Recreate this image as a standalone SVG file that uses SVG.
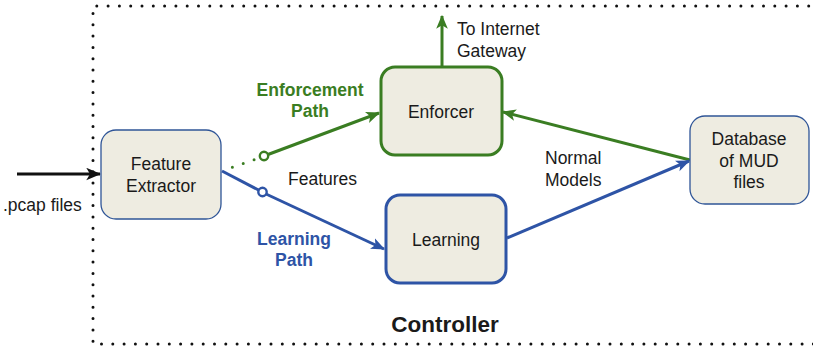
<svg xmlns="http://www.w3.org/2000/svg" width="813" height="350" viewBox="0 0 813 350">
<style>
text{font-family:"Liberation Sans",Arial,sans-serif;font-size:17.5px;fill:#1a1a1a}
.box{fill:#eeece1}
.thin{stroke:#2f5597;stroke-width:1.3}
.gb{stroke:#3a7d22;stroke-width:3}
.bb{stroke:#2e54a6;stroke-width:3}
.g{stroke:#3a7d22;stroke-width:3;fill:none}
.b{stroke:#2e54a6;stroke-width:3;fill:none}
.lg{fill:#3a7d22;font-weight:bold}
.lb{fill:#2e54a6;font-weight:bold}
</style>
<defs>
<marker id="ag" viewBox="0 0 12 10" refX="11" refY="5" markerWidth="14" markerHeight="12" markerUnits="userSpaceOnUse" orient="auto"><path d="M0,0 L12,5 L0,10 L3,5 Z" fill="#3a7d22"/></marker>
<marker id="ab" viewBox="0 0 12 10" refX="11" refY="5" markerWidth="14" markerHeight="12" markerUnits="userSpaceOnUse" orient="auto"><path d="M0,0 L12,5 L0,10 L3,5 Z" fill="#2e54a6"/></marker>
<marker id="ak" viewBox="0 0 12 10" refX="11" refY="5" markerWidth="15" markerHeight="13" markerUnits="userSpaceOnUse" orient="auto"><path d="M0,0 L12,5 L0,10 L3,5 Z" fill="#111"/></marker>
</defs>
<g id="controller">
<path d="M820,6 H93 V344 H820" fill="none" stroke="#111" stroke-width="3" stroke-dasharray="0 11.3" stroke-linecap="round"/>
<text x="445" y="332" text-anchor="middle" style="font-size:22.5px;font-weight:bold">Controller</text>
</g>
<g id="connectors">
<line x1="17" y1="174" x2="100" y2="174" stroke="#111" stroke-width="3" marker-end="url(#ak)"/>
<line x1="222" y1="171" x2="259" y2="158" class="g" stroke-dasharray="0 11.5" stroke-linecap="round" stroke-dashoffset="-11"/>
<line x1="268" y1="154.5" x2="379" y2="113" class="g" marker-end="url(#ag)"/>
<circle cx="264" cy="156" r="4.2" fill="#fff" stroke="#3a7d22" stroke-width="2.4"/>
<line x1="222" y1="171" x2="258.5" y2="190" class="b"/>
<line x1="266" y1="194" x2="384" y2="249" class="b" marker-end="url(#ab)"/>
<circle cx="262.5" cy="192" r="4.2" fill="#fff" stroke="#2e54a6" stroke-width="2.4"/>
<line x1="690" y1="160" x2="503" y2="112" class="g" marker-end="url(#ag)"/>
<line x1="507" y1="238" x2="689" y2="161" class="b" marker-end="url(#ab)"/>
<line x1="442" y1="66" x2="442" y2="16" class="g" marker-end="url(#ag)"/>
</g>
<g id="labels">
<text x="3" y="211">.pcap files</text>
<text x="457" y="35">To Internet</text>
<text x="457" y="57">Gateway</text>
<text x="310" y="96" text-anchor="middle" class="lg">Enforcement</text>
<text x="310" y="117" text-anchor="middle" class="lg">Path</text>
<text x="294" y="245" text-anchor="middle" class="lb">Learning</text>
<text x="294" y="266" text-anchor="middle" class="lb">Path</text>
<text x="288" y="185">Features</text>
<text x="545" y="164">Normal</text>
<text x="545" y="186">Models</text>
</g>
<g id="feature-extractor">
<rect x="101" y="130" width="120" height="89" rx="15" class="box thin"/>
<text x="161" y="170" text-anchor="middle">Feature</text>
<text x="161" y="192" text-anchor="middle">Extractor</text>
</g>
<g id="enforcer">
<rect x="381" y="67" width="121" height="88" rx="14" class="box gb"/>
<text x="441" y="118" text-anchor="middle">Enforcer</text>
</g>
<g id="learning">
<rect x="386" y="195" width="120" height="88" rx="14" class="box bb"/>
<text x="446" y="246" text-anchor="middle">Learning</text>
</g>
<g id="database">
<rect x="690" y="116" width="119" height="88" rx="15" class="box thin"/>
<text x="749" y="145" text-anchor="middle">Database</text>
<text x="749" y="167" text-anchor="middle">of MUD</text>
<text x="749" y="188" text-anchor="middle">files</text>
</g>
</svg>
